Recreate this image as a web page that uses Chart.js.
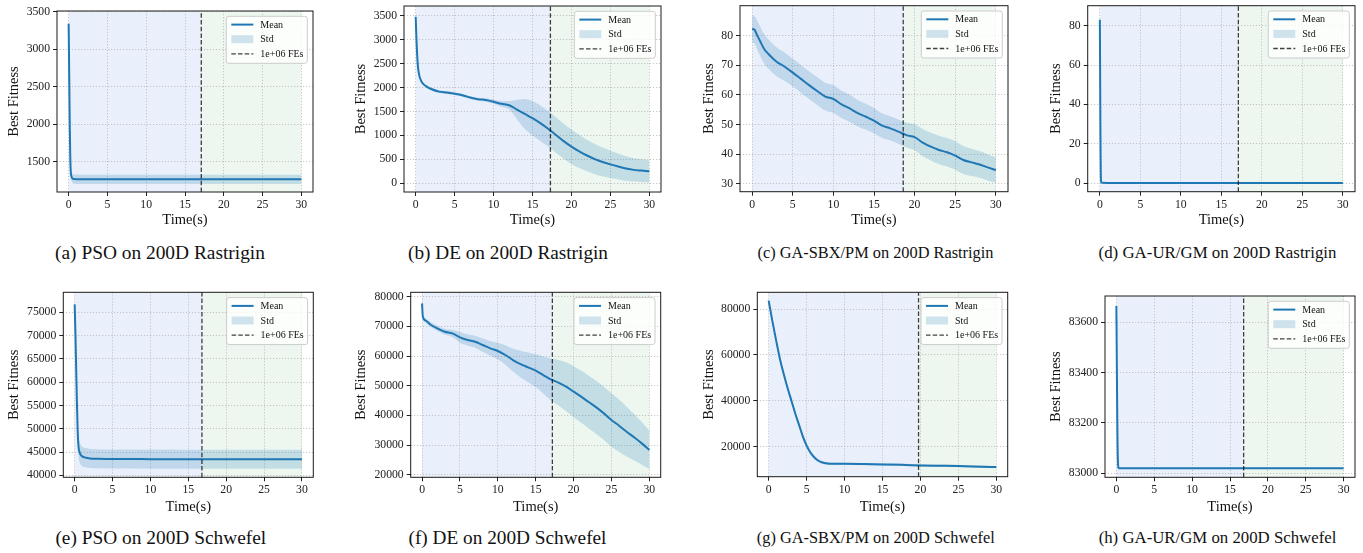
<!doctype html>
<html>
<head>
<meta charset="UTF-8">
<title>Best Fitness vs Time</title>
<script src="https://cdn.jsdelivr.net/npm/chart.js"></script>
<style>
  body { margin: 0; background: #fff; width: 1363px; height: 553px; position: relative; overflow: hidden; font-family: "Liberation Serif", "Times New Roman", serif; }
  canvas { position: absolute; }
  .caption { position: absolute; width: 340px; text-align: center; font-size: 19px; line-height: 22px; color: #111; white-space: nowrap; }
</style>
</head>
<body>
<script>
// ---- data (time in seconds, best fitness mean / std) ----
const feTimes = [17.1, 17.3, 18.6, 17.1, 16.8, 17.2, 19.75, 16.8];

const psoRasTime = [0, 0.05, 0.1, 0.15, 0.2, 0.25, 0.3, 0.4, 0.5, 0.7, 1, 1.5, 2, 3, 5, 10, 15, 20, 25, 30];
const psoRasMean = [3340, 2900, 2400, 1950, 1620, 1430, 1340, 1295, 1280, 1272, 1270, 1269, 1269, 1269, 1269, 1269, 1269, 1269, 1269, 1269];
const psoRasStd  = [15, 20, 25, 30, 38, 45, 50, 56, 60, 62, 62, 62, 62, 62, 62, 62, 62, 62, 62, 62];

const deRasTime = [0, 0.1, 0.2, 0.3, 0.45, 0.7, 1, 1.5, 2, 3, 4, 5, 6, 7, 8, 9, 10, 11, 12, 13, 14, 15, 16, 17, 18, 19, 20, 21, 22, 23, 24, 25, 26, 27, 28, 29, 30];
const deRasMean = [3480, 3000, 2650, 2420, 2260, 2140, 2070, 2010, 1970, 1915, 1895, 1872, 1840, 1790, 1755, 1740, 1705, 1660, 1630, 1540, 1450, 1360, 1255, 1140, 1010, 880, 765, 665, 580, 505, 445, 395, 350, 310, 280, 265, 250];
const deRasStd  = [15, 25, 30, 30, 30, 30, 30, 30, 30, 30, 30, 30, 30, 30, 30, 35, 45, 60, 90, 200, 310, 360, 370, 370, 370, 365, 360, 345, 330, 315, 300, 285, 270, 255, 245, 238, 232];

const gaSbxRasTime = [0, 0.3, 0.5, 1, 1.5, 2, 3, 4, 5, 6, 7, 8, 9, 10, 11, 12, 13, 14, 15, 16, 17, 18, 19, 20, 21, 22, 23, 24, 25, 26, 27, 28, 29, 30];
const gaSbxRasMean = [82.3, 81.9, 80.8, 78.0, 75.4, 73.8, 71.2, 69.5, 67.5, 65.4, 63.3, 61.3, 59.4, 58.6, 56.8, 55.4, 53.8, 52.6, 51.3, 49.6, 48.7, 47.6, 46.4, 45.7, 43.9, 42.5, 41.4, 40.6, 39.5, 38.0, 37.2, 36.5, 35.5, 34.6];
const gaSbxRasStd  = [4.5, 4.6, 4.8, 5.0, 5.0, 5.0, 4.9, 4.8, 4.7, 4.7, 4.7, 4.7, 4.7, 4.7, 4.6, 4.6, 4.5, 4.4, 4.3, 4.2, 4.1, 4.1, 4.2, 4.4, 4.6, 4.7, 4.8, 4.8, 4.8, 4.7, 4.6, 4.5, 4.4, 4.3];

const gaUrRasTime = [0, 0.03, 0.06, 0.09, 0.12, 0.15, 0.2, 0.3, 1, 5, 10, 15, 20, 25, 30];
const gaUrRasMean = [83, 60, 35, 15, 4, 1, 0.3, 0.1, 0.05, 0.03, 0.02, 0.02, 0.02, 0.02, 0.02];
const gaUrRasStd  = [0.2, 0.3, 0.3, 0.3, 0.2, 0.1, 0.05, 0.05, 0.05, 0.05, 0.05, 0.05, 0.05, 0.05, 0.05];

const psoSchTime = [0, 0.1, 0.2, 0.3, 0.4, 0.5, 0.6, 0.8, 1, 1.5, 2, 3, 5, 10, 15, 20, 25, 30];
const psoSchMean = [76700, 70500, 63000, 55500, 49500, 46300, 45200, 44400, 44050, 43750, 43620, 43550, 43500, 43470, 43460, 43450, 43440, 43430];
const psoSchStd  = [150, 300, 500, 800, 1300, 1900, 2150, 2150, 2100, 2100, 2050, 2050, 2050, 2050, 2050, 2050, 2050, 2050];

const deSchTime = [0, 0.1, 0.5, 1, 2, 3, 4, 5, 6, 7, 8, 9, 10, 11, 12, 13, 14, 15, 16, 17, 18, 19, 20, 21, 22, 23, 24, 25, 26, 27, 28, 29, 30];
const deSchMean = [77750, 73300, 71900, 70800, 69330, 68200, 67640, 66300, 65400, 64830, 63710, 62580, 61690, 60340, 58650, 57300, 56180, 55060, 53600, 52130, 51000, 49660, 47980, 46290, 44490, 42700, 40670, 38430, 36520, 34490, 32580, 30560, 28310];
const deSchStd  = [200, 500, 700, 800, 900, 1000, 1200, 1800, 1900, 2000, 2300, 2500, 2800, 3300, 3900, 4500, 5000, 5500, 6200, 7000, 7700, 8200, 8600, 8800, 8900, 9000, 9000, 9000, 8800, 8400, 7800, 7200, 6500];

const gaSbxSchTime = [0, 0.5, 1, 1.5, 2, 2.5, 3, 3.5, 4, 4.5, 5, 5.5, 6, 6.5, 7, 7.5, 8, 9, 10, 12, 15, 18, 20, 22, 25, 28, 30];
const gaSbxSchMean = [83630, 74500, 66000, 58000, 51500, 45500, 40000, 34500, 29500, 24500, 20500, 17500, 15400, 14000, 13200, 12800, 12600, 12560, 12530, 12450, 12300, 12050, 11860, 11720, 11570, 11300, 11130];
const gaSbxSchStd  = [300, 800, 1000, 1100, 1100, 1100, 1100, 1100, 1100, 1100, 1000, 900, 800, 700, 600, 500, 500, 500, 500, 500, 500, 500, 500, 500, 500, 500, 500];

const gaUrSchTime = [0, 0.04, 0.08, 0.12, 0.16, 0.2, 0.25, 0.3, 0.5, 1, 5, 10, 15, 20, 25, 30];
const gaUrSchMean = [83665, 83520, 83360, 83220, 83110, 83050, 83025, 83020, 83019, 83019, 83019, 83019, 83019, 83019, 83019, 83019];
const gaUrSchStd  = [0, 1, 1, 1, 1, 1, 1, 1, 1, 1, 1, 1, 1, 1, 1, 1];

// axis limits and tick labels
const xLimits = [-1.5, 31.5];
const xTicks = [0, 5, 10, 15, 20, 25, 30];
const yLimits = [[1100, 3510], [-182, 3703], [27.3, 90.1], [-4.4, 90.2], [39570, 79290], [19120, 81480], [6930, 87280], [82983, 83705]];
const yTicks = [
  [1500, 2000, 2500, 3000, 3500],
  [0, 500, 1000, 1500, 2000, 2500, 3000, 3500],
  [30, 40, 50, 60, 70, 80],
  [0, 20, 40, 60, 80],
  [40000, 45000, 50000, 55000, 60000, 65000, 70000, 75000],
  [20000, 30000, 40000, 50000, 60000, 70000, 80000],
  [20000, 40000, 60000, 80000],
  [83000, 83200, 83400, 83600]
];
const captions = [
  '(a) PSO on 200D Rastrigin', '(b) DE on 200D Rastrigin', '(c) GA-SBX/PM on 200D Rastrigin', '(d) GA-UR/GM on 200D Rastrigin',
  '(e) PSO on 200D Schwefel', '(f) DE on 200D Schwefel', '(g) GA-SBX/PM on 200D Schwefel', '(h) GA-UR/GM on 200D Schwefel'
];

// ---- layout of each subplot (page pixels) ----
const panels = [
  { time: psoRasTime, mean: psoRasMean, std: psoRasStd, area: [57, 11, 313, 192], labelX: 14, capX: 160, capW: 210, row: 0 },
  { time: deRasTime, mean: deRasMean, std: deRasStd, area: [404, 6, 661, 192], labelX: 361.7, capX: 508, capW: 200, row: 0 },
  { time: gaSbxRasTime, mean: gaSbxRasMean, std: gaSbxRasStd, area: [740, 5.7, 1008, 191.7], labelX: 709, capX: 875.5, capW: 236, row: 0 },
  { time: gaUrRasTime, mean: gaUrRasMean, std: gaUrRasStd, area: [1087.7, 5.7, 1355, 191.7], labelX: 1056, capX: 1217.5, capW: 238, row: 0 },
  { time: psoSchTime, mean: psoSchMean, std: psoSchStd, area: [63.3, 292.3, 313.3, 477.3], labelX: 14, capX: 160.8, capW: 211, row: 1 },
  { time: deSchTime, mean: deSchMean, std: deSchStd, area: [410.7, 292.3, 660.7, 477.3], labelX: 361.7, capX: 507.5, capW: 198, row: 1 },
  { time: gaSbxSchTime, mean: gaSbxSchMean, std: gaSbxSchStd, area: [757.3, 292.3, 1007.7, 476.7], labelX: 709, capX: 875.8, capW: 238, row: 1 },
  { time: gaUrSchTime, mean: gaUrSchMean, std: gaUrSchStd, area: [1105, 296, 1355, 477.3], labelX: 1056, capX: 1217.5, capW: 238, row: 1 }
];
const rowTops = [0, 280];
const titleYs = [220, 506.7];
const captionYs = [252.5, 538];

const FONT = '"Liberation Serif", "Times New Roman", serif';
const MEAN_COLOR = '#1f77b4';
const STD_COLOR = 'rgba(31,119,180,0.2)';
const FE_COLOR = 'rgba(0,0,0,0.75)';

const measureCtx = document.createElement('canvas').getContext('2d');
function fitFontSize(text, width) {
  measureCtx.font = '100px ' + FONT;
  return 100 * width / measureCtx.measureText(text).width;
}

// shaded spans behind the grid, box frame and in-axes legend
const panelDecor = {
  id: 'panelDecor',
  beforeDraw(chart, args, opts) {
    const { ctx, chartArea: a, scales: { x } } = chart;
    const x0 = x.getPixelForValue(opts.start);
    const xf = x.getPixelForValue(opts.fe);
    const x1 = x.getPixelForValue(opts.end);
    ctx.save();
    ctx.fillStyle = '#eaf0fb';
    ctx.fillRect(x0, a.top, xf - x0, a.bottom - a.top);
    ctx.fillStyle = '#edf7f0';
    ctx.fillRect(xf, a.top, x1 - xf, a.bottom - a.top);
    ctx.restore();
  },
  afterDraw(chart) {
    const { ctx, chartArea: a } = chart;
    const ds = chart.data.datasets;
    ctx.save();
    ctx.strokeStyle = '#1a1a1a';
    ctx.lineWidth = 1;
    ctx.strokeRect(a.left, a.top, a.right - a.left, a.bottom - a.top);

    const w = 81, h = 47;
    const lx = a.right - 5.7 - w, ly = a.top + 5.3;
    ctx.fillStyle = 'rgba(255,255,255,0.8)';
    ctx.strokeStyle = '#cccccc';
    ctx.beginPath();
    ctx.roundRect(lx, ly, w, h, 2.5);
    ctx.fill();
    ctx.stroke();

    const items = [ds[0], ds[1], ds[3]];
    ctx.font = '10px ' + FONT;
    ctx.textBaseline = 'middle';
    items.forEach((d, i) => {
      const y = ly + 8.3 + i * 14.6;
      if (i === 1) {
        ctx.fillStyle = d.backgroundColor;
        ctx.fillRect(lx + 5, y - 4, 22, 8);
      } else {
        ctx.beginPath();
        ctx.setLineDash(d.borderDash || []);
        ctx.strokeStyle = d.borderColor;
        ctx.lineWidth = d.borderWidth;
        ctx.moveTo(lx + 5, y);
        ctx.lineTo(lx + 27, y);
        ctx.stroke();
        ctx.setLineDash([]);
      }
      ctx.fillStyle = '#111';
      ctx.fillText(d.label, lx + 34, y + 0.5);
    });
    ctx.restore();
  }
};

function buildPanel(p, idx) {
  const rowTop = rowTops[p.row];
  const left = Math.round(p.labelX - 7.25);
  const [L, T, R, B] = p.area;
  const W = Math.ceil(R - left) + 6;
  const H = Math.round(titleYs[p.row] + 7.25 - rowTop);

  const canvas = document.createElement('canvas');
  canvas.width = W;
  canvas.height = H;
  canvas.style.left = left + 'px';
  canvas.style.top = rowTop + 'px';
  canvas.style.width = W + 'px';
  canvas.style.height = H + 'px';
  document.body.appendChild(canvas);

  const yw = L - left, xh = rowTop + H - B, padTop = T - rowTop, padRight = left + W - R;
  const [yMin, yMax] = yLimits[idx];
  const fe = feTimes[idx];
  const pts = arr => arr.map((v, i) => ({ x: p.time[i], y: v }));
  const upper = p.mean.map((m, i) => m + p.std[i]);
  const lower = p.mean.map((m, i) => m - p.std[i]);

  const tickFont = { family: FONT, size: 11.7 };
  const titleFont = { family: FONT, size: 14.5, lineHeight: 1 };
  const gridOpts = { color: 'rgba(165,165,165,0.75)', lineWidth: 0.8, tickLength: 4, tickColor: '#222', tickWidth: 1, tickBorderDash: [] };
  const curve = { pointRadius: 0, cubicInterpolationMode: 'monotone' };

  new Chart(canvas, {
    type: 'line',
    data: {
      datasets: [
        { label: 'Mean', data: pts(p.mean), borderColor: MEAN_COLOR, borderWidth: 2, fill: false, order: 1, ...curve },
        { label: 'Std', data: pts(upper), borderWidth: 0, borderColor: 'transparent', backgroundColor: STD_COLOR, fill: '+1', order: 2, ...curve },
        { label: '', data: pts(lower), borderWidth: 0, borderColor: 'transparent', fill: false, order: 3, ...curve },
        { label: '1e+06 FEs', data: [{ x: fe, y: yMin }, { x: fe, y: yMax }], borderColor: FE_COLOR, borderWidth: 1.3, borderDash: [4.5, 2.2], pointRadius: 0, fill: false, order: 0 }
      ]
    },
    options: {
      responsive: false,
      animation: false,
      devicePixelRatio: 1,
      layout: { padding: { left: 0, top: padTop, right: padRight, bottom: 0 } },
      plugins: {
        legend: { display: false },
        tooltip: { enabled: false },
        panelDecor: { start: p.time[0], end: p.time[p.time.length - 1], fe: fe }
      },
      scales: {
        x: {
          type: 'linear', min: xLimits[0], max: xLimits[1],
          afterBuildTicks(s) { s.ticks = xTicks.map(v => ({ value: v })); },
          ticks: { maxRotation: 0, autoSkip: false, padding: 2, color: '#222', font: tickFont, callback: v => String(v) },
          grid: gridOpts,
          border: { display: false, dash: [1.2, 1.8] },
          title: { display: true, text: 'Time(s)', color: '#111', font: titleFont, padding: 0 },
          afterFit(s) { s.height = xh; s.paddingLeft = 0; s.paddingRight = 0; s.paddingTop = 0; s.paddingBottom = 0; }
        },
        y: {
          type: 'linear', min: yMin, max: yMax,
          afterBuildTicks(s) { s.ticks = yTicks[idx].map(v => ({ value: v })); },
          ticks: { autoSkip: false, padding: 3, color: '#222', font: tickFont, callback: v => String(v) },
          grid: gridOpts,
          border: { display: false, dash: [1.2, 1.8] },
          title: { display: true, text: 'Best Fitness', color: '#111', font: titleFont, padding: 0 },
          afterFit(s) { s.width = yw; s.paddingLeft = 0; s.paddingRight = 0; s.paddingTop = 0; s.paddingBottom = 0; }
        }
      }
    },
    plugins: [panelDecor]
  });

  const cap = document.createElement('div');
  cap.className = 'caption';
  cap.textContent = captions[idx];
  cap.style.fontSize = fitFontSize(captions[idx], p.capW).toFixed(2) + 'px';
  cap.style.left = (p.capX - 170) + 'px';
  cap.style.top = (captionYs[p.row] - 11) + 'px';
  document.body.appendChild(cap);
}

panels.forEach(buildPanel);
</script>
</body>
</html>
